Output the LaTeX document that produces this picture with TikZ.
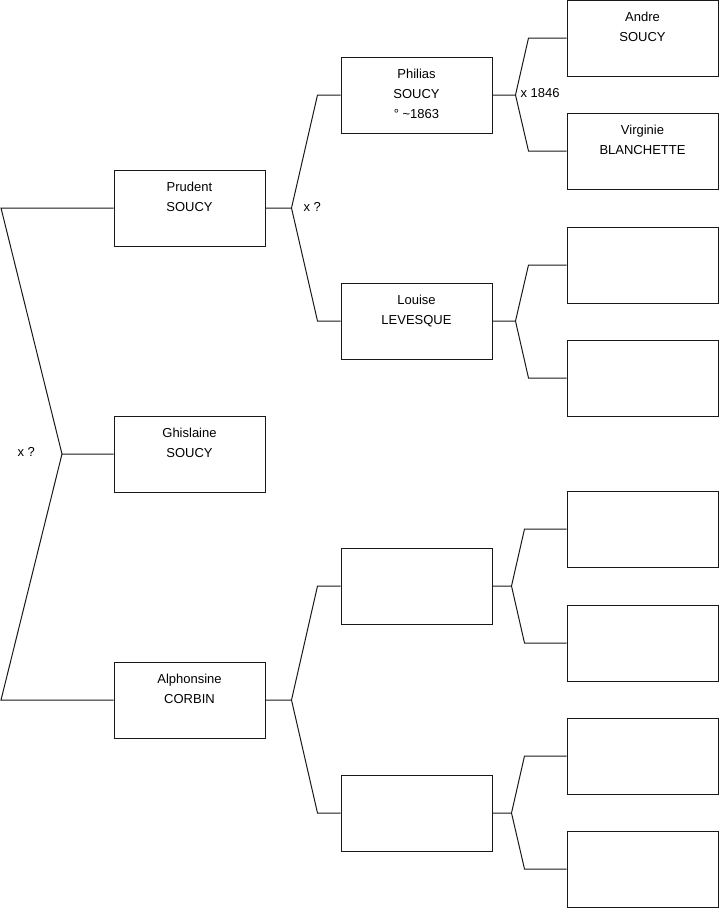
\documentclass[tikz,border=0pt]{standalone}
\usepackage{fontspec}
\setmainfont{Liberation Sans}
\newcommand{\ptext}[1]{\parbox[c][76pt][t]{151pt}{\centering\fontsize{13}{20}\selectfont\rule{0pt}{21.5pt}#1}}
\begin{document}
\begin{tikzpicture}[x=1pt,y=-1pt,line width=1pt,
  pbox/.style={draw=black!90,rectangle,inner sep=0pt,minimum width=151pt,minimum height=76pt},
  lbl/.style={anchor=west,inner sep=0pt,font=\fontsize{13}{20}\selectfont}]
\useasboundingbox (0,0) rectangle (719,908);
% first generation
\node[pbox] (pru) at (189.5,208) {\ptext{Prudent\\SOUCY}};
\node[pbox] (ghi) at (189.5,454) {\ptext{Ghislaine\\SOUCY}};
\node[pbox] (alp) at (189.5,700) {\ptext{Alphonsine\\CORBIN}};
% parents
\node[pbox] (phi) at (416.5,95) {\ptext{Philias\\SOUCY\\° \textasciitilde1863}};
\node[pbox] (lou) at (416.5,321) {\ptext{Louise\\LEVESQUE}};
\node[pbox] (m3) at (416.5,586) {};
\node[pbox] (m4) at (416.5,813) {};
% grandparents
\node[pbox] (and) at (642.5,38) {\ptext{Andre\\SOUCY}};
\node[pbox] (vir) at (642.5,151) {\ptext{Virginie\\BLANCHETTE}};
\foreach \n/\y in {g3/265,g4/378,g5/529,g6/643,g7/756,g8/869} {\node[pbox] (\n) at (642.5,\y) {};}
% forks
\coordinate (f0) at (62,454); \coordinate (l1) at (1,208); \coordinate (l2) at (1,700);
\draw[black!90] (pru.west) -- (l1) -- (f0) -- (ghi.west) (f0) -- (l2) -- (alp.west);
\foreach \a/\b/\c in {pru/phi/lou,alp/m3/m4} {\draw[black!90] (\a.east) -- ++(26,0) coordinate (f) -- ([xshift=-23pt]\b.west) -- (\b.west) (f) -- ([xshift=-23pt]\c.west) -- (\c.west);}
\foreach \a/\b/\c/\d/\e in {phi/and/vir/23/38,lou/g3/g4/23/38,m3/g5/g6/19/42,m4/g7/g8/19/42} {\draw[black!90] (\a.east) -- ++(\d,0) coordinate (f) -- ([xshift=-\e pt]\b.west) -- (\b.west) (f) -- ([xshift=-\e pt]\c.west) -- (\c.west);}
% marriage labels
\node[lbl] (x0) at (17,452) {x ?};
\node[lbl] (x1) at (303,207) {x ?};
\node[lbl] (x2) at (520,93) {x 1846};
\end{tikzpicture}
\end{document}
